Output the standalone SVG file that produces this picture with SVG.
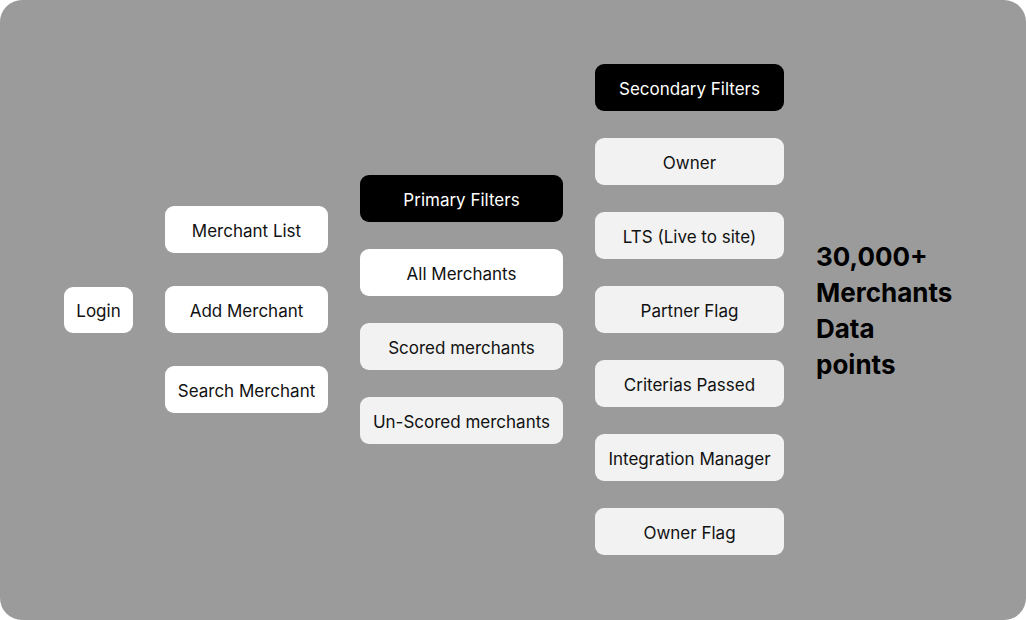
<svg xmlns="http://www.w3.org/2000/svg" width="1026" height="620" viewBox="0 0 1026 620">
<style>
.w{fill:#ffffff}
.g{fill:#f2f2f2}
.b{fill:#000000}
.t{font-family:Inter,"Liberation Sans",sans-serif;font-size:17px;fill:#111;text-anchor:middle;dominant-baseline:central}
.tw{fill:#ffffff}
.big{font-family:Inter,"Liberation Sans",sans-serif;font-size:26px;font-weight:700;fill:#000}
</style>
<rect x="0" y="0" width="1026" height="620" fill="#ffffff"/>
<rect x="0" y="0" width="1026" height="620" rx="22" fill="#9b9b9b"/>
<g id="connectors"></g>
<g id="login"><rect class="w" x="64" y="287" width="69" height="46" rx="9"/><text class="t" x="98.5" y="311">Login</text></g>
<g id="merchant-list"><rect class="w" x="165" y="206" width="163" height="47" rx="9"/><text class="t" x="246.5" y="231">Merchant List</text></g>
<g id="add-merchant"><rect class="w" x="165" y="286" width="163" height="47" rx="9"/><text class="t" x="246.5" y="311">Add Merchant</text></g>
<g id="search-merchant"><rect class="w" x="165" y="366" width="163" height="47" rx="9"/><text class="t" x="246.5" y="391">Search Merchant</text></g>
<g id="primary-filters"><rect class="b" x="360" y="175" width="203" height="47" rx="9"/><text class="t tw" x="461.5" y="200">Primary Filters</text></g>
<g id="all-merchants"><rect class="w" x="360" y="249" width="203" height="47" rx="9"/><text class="t" x="461.5" y="274">All Merchants</text></g>
<g id="scored-merchants"><rect class="g" x="360" y="323" width="203" height="47" rx="9"/><text class="t" x="461.5" y="348">Scored merchants</text></g>
<g id="unscored-merchants"><rect class="g" x="360" y="397" width="203" height="47" rx="9"/><text class="t" x="461.5" y="422">Un-Scored merchants</text></g>
<g id="secondary-filters"><rect class="b" x="595" y="64" width="189" height="47" rx="9"/><text class="t tw" x="689.5" y="89">Secondary Filters</text></g>
<g id="owner"><rect class="g" x="595" y="138" width="189" height="47" rx="9"/><text class="t" x="689.5" y="163">Owner</text></g>
<g id="lts"><rect class="g" x="595" y="212" width="189" height="47" rx="9"/><text class="t" x="689.5" y="237">LTS (Live to site)</text></g>
<g id="partner-flag"><rect class="g" x="595" y="286" width="189" height="47" rx="9"/><text class="t" x="689.5" y="311">Partner Flag</text></g>
<g id="criterias-passed"><rect class="g" x="595" y="360" width="189" height="47" rx="9"/><text class="t" x="689.5" y="385">Criterias Passed</text></g>
<g id="integration-manager"><rect class="g" x="595" y="434" width="189" height="47" rx="9"/><text class="t" x="689.5" y="459">Integration Manager</text></g>
<g id="owner-flag"><rect class="g" x="595" y="508" width="189" height="47" rx="9"/><text class="t" x="689.5" y="533">Owner Flag</text></g>
<g id="stats"><text class="big" x="816"><tspan x="816" y="266">30,000+</tspan><tspan x="816" y="302">Merchants</tspan><tspan x="816" y="338">Data</tspan><tspan x="816" y="374">points</tspan></text></g>
</svg>
